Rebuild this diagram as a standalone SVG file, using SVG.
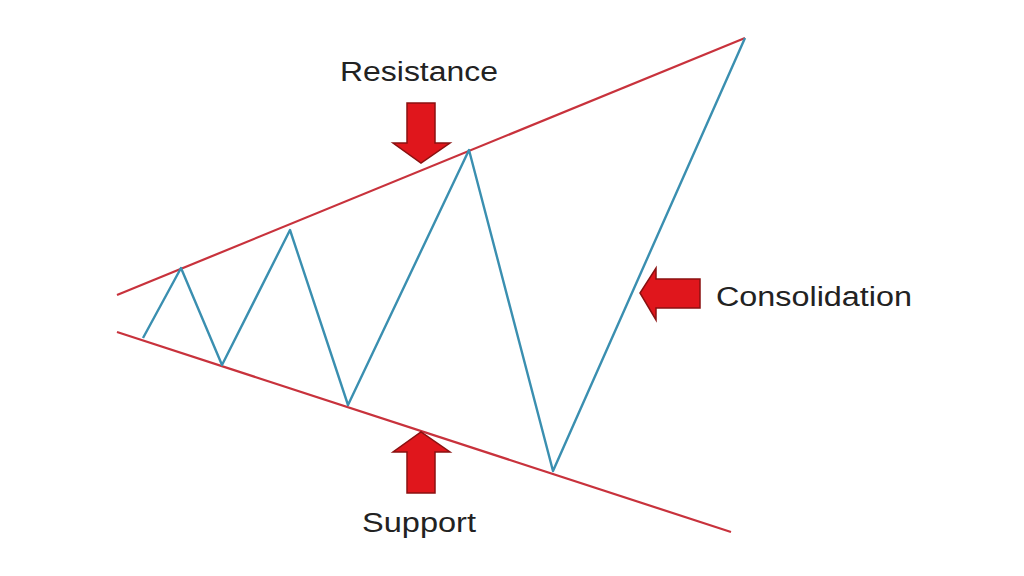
<svg xmlns="http://www.w3.org/2000/svg" width="1024" height="576" viewBox="0 0 1024 576">
<style>
.tl{stroke:#c8323c;stroke-width:2.2;fill:none}
.zz{stroke:#3a8fb0;stroke-width:2.4;fill:none;stroke-linejoin:round}
.ar{fill:#e0161c;stroke:#8a1010;stroke-width:1.5}
.lb{font-family:"Liberation Sans",Arial,sans-serif;font-size:27px;fill:#222}
</style>
<rect width="1024" height="576" fill="#fff"/>
<g id="connectors">
<line class="tl" x1="117" y1="295" x2="745" y2="38"/>
<line class="tl" x1="117" y1="332" x2="731" y2="532"/>
<polyline class="zz" points="143,338 181,268 222,365 290,230 348,405 469,150 553,471 745,38"/>
</g>
<g id="resistance">
<polygon class="ar" points="407,103 435,103 435,143 450,143 421,163 393,143 407,143"/>
<text class="lb" x="340" y="81" textLength="158" lengthAdjust="spacingAndGlyphs">Resistance</text>
</g>
<g id="support">
<polygon class="ar" points="407,493 435,493 435,452 450,452 421,432 393,452 407,452"/>
<text class="lb" x="362" y="532" textLength="114" lengthAdjust="spacingAndGlyphs">Support</text>
</g>
<g id="consolidation">
<polygon class="ar" points="700,279 700,308 656,308 656,320 640,293 656,268 656,279"/>
<text class="lb" x="716" y="306" textLength="196" lengthAdjust="spacingAndGlyphs">Consolidation</text>
</g>
</svg>
